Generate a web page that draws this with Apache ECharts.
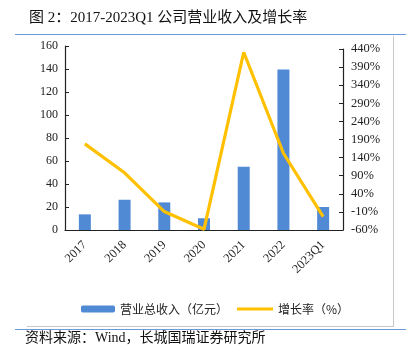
<!DOCTYPE html>
<html>
<head>
<meta charset="utf-8">
<script src="https://cdn.jsdelivr.net/npm/echarts@6/dist/echarts.min.js"></script>
<style>
  html, body { margin: 0; padding: 0; background: #fff; }
  #main { width: 413px; height: 353px; }
</style>
</head>
<body>
<div id="main"></div>
<script>
var chartDom = document.getElementById('main');
var myChart = echarts.init(chartDom);

var years = ['2017', '2018', '2019', '2020', '2021', '2022', '2023Q1']; //年份
var revenue = [13.6, 26.3, 24.0, 10.2, 55.0, 139.5, 20.0]; //营业总收入（亿元）
var growth = [178, 98, -9, -58, 431, 152, -23]; //增长率（%）

var serif = '"Liberation Serif", "Times New Roman", "Noto Sans CJK SC"';
var cjk = '"Noto Sans CJK SC", sans-serif';

var option = {
    animation: false,
    title: {
        text: '图 2：2017-2023Q1 公司营业收入及增长率',
        left: 24,
        top: 6,
        textStyle: { fontFamily: serif, fontSize: 15, fontWeight: 'normal', color: '#111' }
    },
    graphic: [
        { type: 'line', shape: { x1: 15, y1: 34.5, x2: 406, y2: 34.5 }, style: { stroke: '#6b9bd6', lineWidth: 1.2 } },
        { type: 'line', shape: { x1: 393.5, y1: 36, x2: 393.5, y2: 327 }, style: { stroke: '#c8c8c8', lineWidth: 1 } },
        { type: 'line', shape: { x1: 27, y1: 326.5, x2: 393.5, y2: 326.5 }, style: { stroke: '#c8c8c8', lineWidth: 1 } },
        { type: 'line', shape: { x1: 15, y1: 329.5, x2: 406, y2: 329.5 }, style: { stroke: '#6b9bd6', lineWidth: 1.2 } },
        {
            type: 'text', left: 25, top: 331,
            style: { text: '资料来源：Wind，长城国瑞证券研究所', fontFamily: serif, fontSize: 14, fill: '#111' }
        }
    ],
    legend: [
        {
            data: ['营业总收入（亿元）'],
            left: 76, top: 298,
            itemWidth: 34, itemHeight: 7,
            textStyle: { fontFamily: cjk, fontSize: 12, color: '#222' }
        },
        {
            data: [{ name: '增长率（%）', icon: 'rect' }],
            left: 232, top: 298,
            itemWidth: 36, itemHeight: 3,
            textStyle: { fontFamily: cjk, fontSize: 12, color: '#222' }
        }
    ],
    grid: [
        { left: 65, right: 70, top: 46, bottom: 123 }, //柱状图
        { left: 65, right: 70, top: 49, bottom: 123 }  //折线图
    ],
    xAxis: [
        {
            type: 'category',
            gridIndex: 0,
            data: years,
            axisLine: { lineStyle: { color: '#222', width: 1.2 } },
            axisTick: { show: false },
            axisLabel: { rotate: 45, margin: 13, fontFamily: serif, fontSize: 12.5, color: '#222' }
        },
        {
            type: 'category',
            gridIndex: 1,
            data: years,
            show: false
        }
    ],
    yAxis: [
        {
            type: 'value',
            gridIndex: 0,
            min: 0, max: 160, interval: 20,
            axisLine: { show: true, lineStyle: { color: '#222', width: 1.2 } },
            axisTick: { show: true, inside: true, length: 4, lineStyle: { color: '#222' } },
            splitLine: { show: false },
            axisLabel: { margin: 7, fontFamily: serif, fontSize: 12, color: '#222' }
        },
        {
            type: 'value',
            gridIndex: 1,
            position: 'right',
            min: -60, max: 440, interval: 50,
            axisLine: { show: true, lineStyle: { color: '#222', width: 1.2 } },
            axisTick: { show: true, inside: true, length: 4, lineStyle: { color: '#222' } },
            splitLine: { show: false },
            axisLabel: { margin: 8, fontFamily: serif, fontSize: 12.5, color: '#222', formatter: '{value}%' }
        }
    ],
    series: [
        {
            name: '营业总收入（亿元）',
            type: 'bar',
            xAxisIndex: 0, yAxisIndex: 0,
            data: revenue,
            barWidth: 12,
            itemStyle: { color: '#5089d4' }
        },
        {
            name: '增长率（%）',
            type: 'line',
            xAxisIndex: 1, yAxisIndex: 1,
            data: growth,
            symbol: 'none',
            lineStyle: { color: '#ffc000', width: 3.2 },
            itemStyle: { color: '#ffc000' }
        }
    ]
};

option && myChart.setOption(option);
</script>
</body>
</html>
